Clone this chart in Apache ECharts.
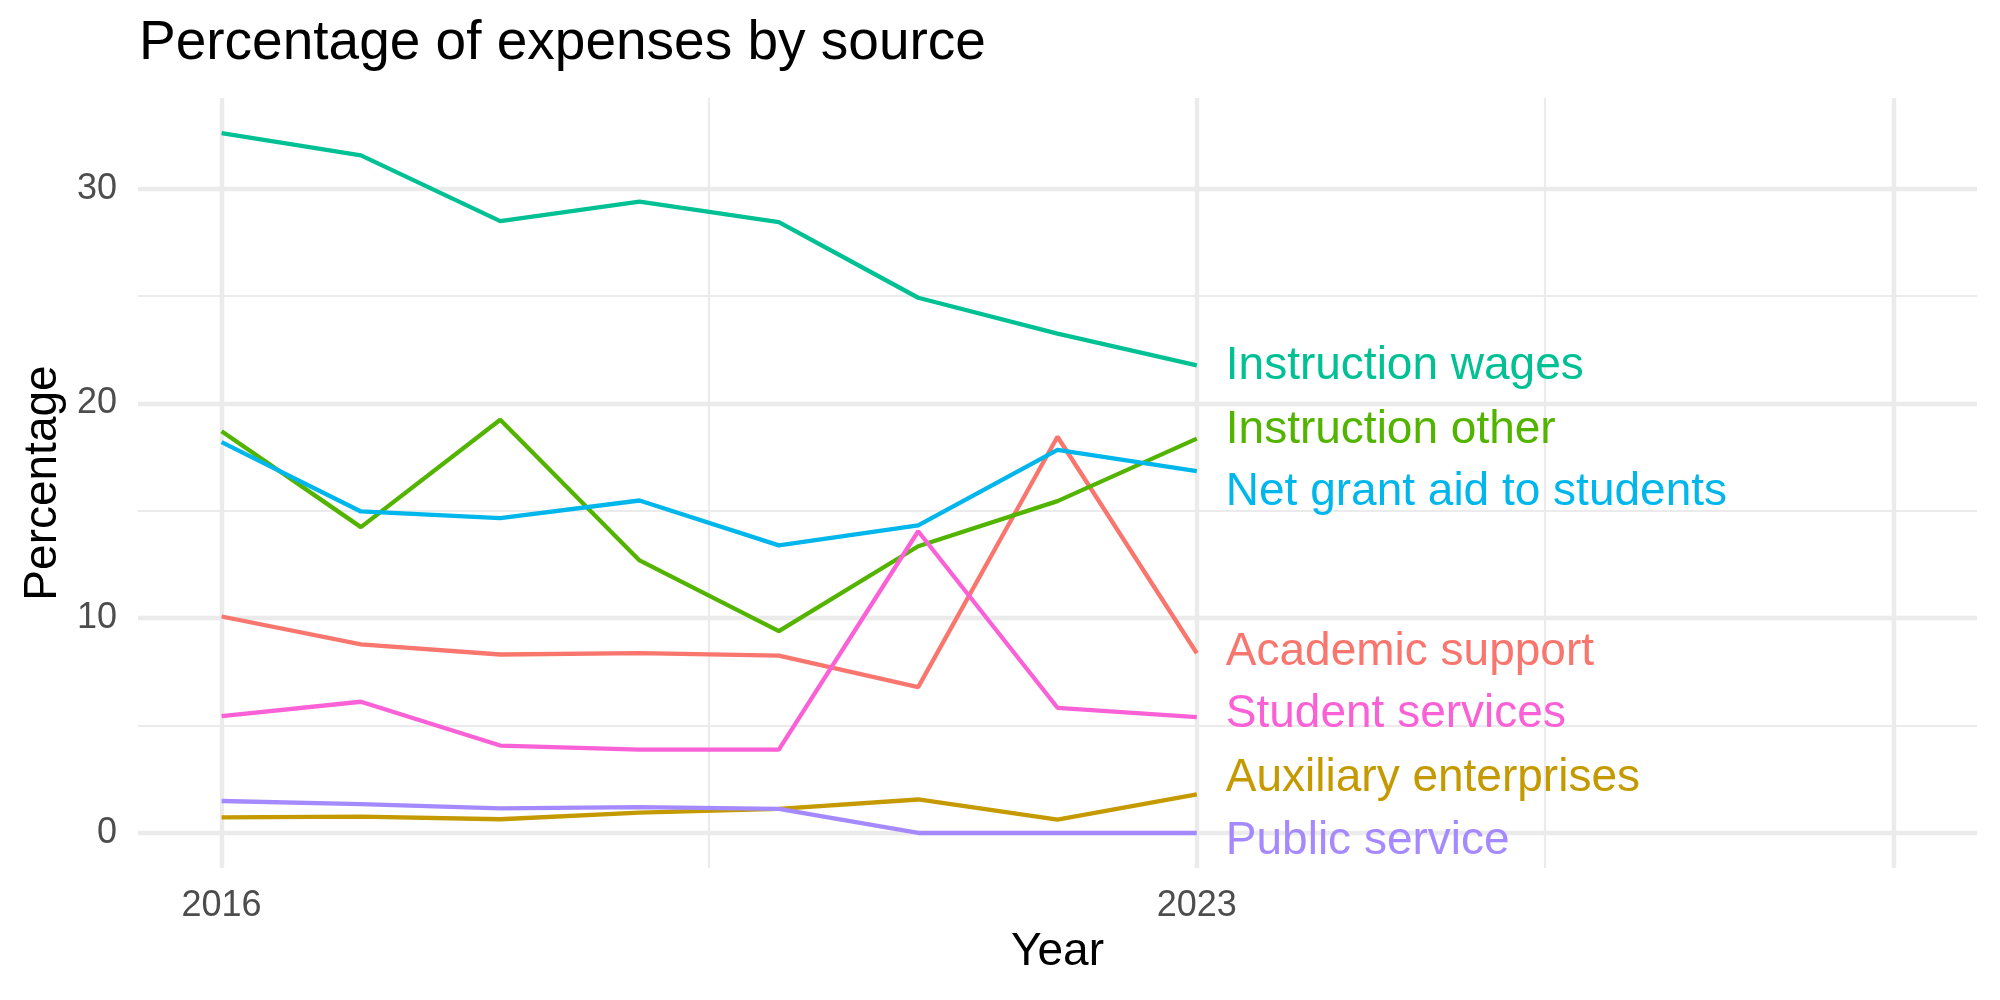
<!DOCTYPE html>
<html>
<head>
<meta charset="utf-8">
<title>Percentage of expenses by source</title>
<script src="https://cdn.jsdelivr.net/npm/echarts@6/dist/echarts.min.js"></script>
<style>
  html, body { margin: 0; padding: 0; background: #fff; }
  #main { width: 2000px; height: 1000px; }
</style>
</head>
<body>
<div id="main"></div>
<script>
// data
var years = [2016, 2017, 2018, 2019, 2020, 2021, 2022, 2023];
var academicSupport = [10.08, 8.78, 8.31, 8.37, 8.26, 6.79, 18.45, 8.37];
var auxiliaryEnterprises = [0.73, 0.76, 0.64, 0.95, 1.12, 1.56, 0.62, 1.80];
var instructionOther = [18.70, 14.24, 19.24, 12.69, 9.40, 13.35, 15.45, 18.36];
var instructionWages = [32.59, 31.55, 28.49, 29.39, 28.44, 24.92, 23.25, 21.77];
var netGrantAid = [18.20, 14.97, 14.66, 15.48, 13.39, 14.32, 17.84, 16.85];
var publicService = [1.49, 1.34, 1.15, 1.20, 1.12, 0, 0, 0];
var studentServices = [5.44, 6.11, 4.07, 3.88, 3.88, 14.05, 5.83, 5.39];

var xTickLabels = [2016, 2023];
var yTickLabels = [0, 10, 20, 30];
var xMajorGrid = [2016, 2023, 2028];
var xMinorGrid = [2019.5, 2025.5];
var yMajorGrid = [0, 10, 20, 30];
var yMinorGrid = [5, 15, 25];

var FONT = 'Liberation Sans, Arial, Helvetica, sans-serif';

// series: name, values, colour, label offset (px, y)
var groups = [
  ['Academic support', academicSupport, '#F8766D', -1],
  ['Auxiliary enterprises', auxiliaryEnterprises, '#C49A00', -16],
  ['Instruction other', instructionOther, '#53B400', -8],
  ['Instruction wages', instructionWages, '#00C094', 1],
  ['Net grant aid to students', netGrantAid, '#00B6EB', 21],
  ['Public service', publicService, '#A58AFF', 8],
  ['Student services', studentServices, '#FB61D7', -3]
];

function gridLines(vals, key, width) {
  return vals.map(function (v) {
    var d = {};
    d[key] = v;
    d.lineStyle = { color: '#EBEBEB', width: width, type: 'solid' };
    return d;
  });
}

var series = [];
// background grid lines
series.push({
  type: 'line',
  data: [],
  z: 1,
  silent: true,
  markLine: {
    z: 1,
    silent: true,
    animation: false,
    symbol: ['none', 'none'],
    label: { show: false },
    emphasis: { disabled: true },
    data: [].concat(
      gridLines(yMinorGrid, 'yAxis', 2.2),
      gridLines(xMinorGrid, 'xAxis', 2.2),
      gridLines(yMajorGrid, 'yAxis', 4.4),
      gridLines(xMajorGrid, 'xAxis', 4.4)
    )
  }
});

groups.forEach(function (g) {
  series.push({
    name: g[0],
    type: 'line',
    z: 3,
    showSymbol: false,
    data: years.map(function (y, i) { return [y, g[1][i]]; }),
    lineStyle: { color: g[2], width: 4.3 },
    itemStyle: { color: g[2] },
    endLabel: {
      show: true,
      formatter: '{a}',
      color: g[2],
      fontFamily: FONT,
      fontSize: 46,
      distance: 0,
      offset: [29, g[3]]
    }
  });
});

var chart = echarts.init(document.getElementById('main'));
chart.setOption({
  animation: false,
  backgroundColor: '#ffffff',
  title: {
    text: 'Percentage of expenses by source',
    left: 134,
    top: 11,
    textStyle: { fontFamily: FONT, fontSize: 55, fontWeight: 'normal', color: '#000' }
  },
  grid: { left: 138, right: 23, top: 98, bottom: 132, containLabel: false },
  xAxis: {
    type: 'value',
    min: 2015.4,
    max: 2028.6,
    name: 'Year',
    nameLocation: 'middle',
    nameGap: 60,
    nameTextStyle: { fontFamily: FONT, fontSize: 46, color: '#000' },
    axisLine: { show: false },
    axisTick: { show: false },
    splitLine: { show: false },
    axisLabel: {
      customValues: xTickLabels,
      formatter: function (v) { return String(v); },
      fontFamily: FONT, fontSize: 36, color: '#4D4D4D', margin: 20
    }
  },
  yAxis: {
    type: 'value',
    min: -1.63,
    max: 34.22,
    name: 'Percentage',
    nameLocation: 'middle',
    nameRotate: 90,
    nameGap: 71,
    nameTextStyle: { fontFamily: FONT, fontSize: 46, color: '#000' },
    axisLine: { show: false },
    axisTick: { show: false },
    splitLine: { show: false },
    axisLabel: {
      customValues: yTickLabels,
      fontFamily: FONT, fontSize: 36, color: '#4D4D4D', margin: 21
    }
  },
  series: series
});
</script>
</body>
</html>
